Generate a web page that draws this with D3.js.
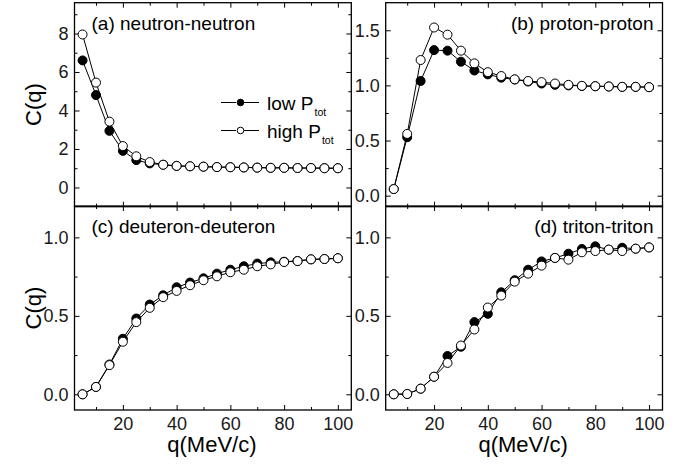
<!DOCTYPE html>
<html>
<head>
<meta charset="utf-8">
<script src="https://cdn.jsdelivr.net/npm/d3@7"></script>
<style>
  body { margin: 0; background: #fff; }
  svg { font-family: "Liberation Sans", Arial, sans-serif; }
  .axis path { display: none; }
  .axis line { stroke: #000; stroke-width: 1; }
  .axis text { font-size: 18px; fill: #1a1a1a; }
</style>
</head>
<body>
<svg id="chart" width="694" height="465"></svg>
<script>
// q values (MeV/c)
const qValues = [5, 10, 15, 20, 25, 30, 35, 40, 45, 50, 55, 60, 65, 70, 75, 80, 85, 90, 95, 100];

// (a) neutron-neutron
const nnLow  = [6.6, 4.8, 2.94, 1.9, 1.42, 1.25, 1.18, 1.12, 1.1, 1.08, 1.06, 1.05, 1.04, 1.03, 1.02, 1.02, 1.01, 1.01, 1.0, 1.0];
const nnHigh = [7.95, 5.45, 3.42, 2.15, 1.62, 1.32, 1.18, 1.12, 1.1, 1.08, 1.06, 1.05, 1.04, 1.03, 1.02, 1.02, 1.01, 1.01, 1.0, 1.0];

// (b) proton-proton
const ppLow  = [0.06, 0.53, 1.04, 1.32, 1.315, 1.215, 1.135, 1.1, 1.07, 1.053, 1.035, 1.017, 1.005, 1.0, 0.995, 0.992, 0.99, 0.987, 0.987, 0.984];
const ppHigh = [0.06, 0.56, 1.23, 1.525, 1.46, 1.315, 1.2, 1.12, 1.085, 1.055, 1.04, 1.03, 1.017, 1.005, 0.996, 0.993, 0.99, 0.987, 0.987, 0.984];

// (c) deuteron-deuteron
const ddLow  = [0.0, 0.047, 0.19, 0.354, 0.483, 0.572, 0.631, 0.682, 0.712, 0.739, 0.769, 0.794, 0.816, 0.833, 0.841, 0.845, 0.85, 0.86, 0.862, 0.867];
const ddHigh = [0.0, 0.047, 0.186, 0.335, 0.46, 0.551, 0.619, 0.659, 0.695, 0.727, 0.752, 0.778, 0.794, 0.816, 0.828, 0.843, 0.849, 0.86, 0.862, 0.867];

// (d) triton-triton
const ttLow  = [0.0, 0.002, 0.036, 0.112, 0.244, 0.303, 0.46, 0.513, 0.65, 0.727, 0.794, 0.847, 0.869, 0.896, 0.926, 0.943, 0.922, 0.934, 0.928, 0.936];
const ttHigh = [0.0, 0.002, 0.036, 0.112, 0.2, 0.311, 0.413, 0.553, 0.629, 0.718, 0.769, 0.82, 0.869, 0.858, 0.905, 0.913, 0.922, 0.913, 0.928, 0.936];

const xMajor = [20, 40, 60, 80, 100];
const xMinor = [10, 30, 50, 70, 90];

const legendLabels = ['low P', 'high P'];

let svg = d3.select('#chart');

let frame = {
  left: [74.5, 385.7],
  width: 276.8,
  top: [2.7, 206],
  height: 204
};

let panels = [
  { title: '(a) neutron-neutron', col: 0, row: 0, low: nnLow, high: nnHigh,
    yDomain: [-1, 9.6], yMajor: [0, 2, 4, 6, 8], yMinor: [1, 3, 5, 7, 9], fmt: d3.format('d'), anchor: 'start' },
  { title: '(b) proton-proton', col: 1, row: 0, low: ppLow, high: ppHigh,
    yDomain: [-0.1, 1.75], yMajor: [0, 0.5, 1, 1.5], yMinor: [0.25, 0.75, 1.25], fmt: d3.format('.1f'), anchor: 'end' },
  { title: '(c) deuteron-deuteron', col: 0, row: 1, low: ddLow, high: ddHigh,
    yDomain: [-0.1, 1.2], yMajor: [0, 0.5, 1], yMinor: [0.25, 0.75], fmt: d3.format('.1f'), anchor: 'start' },
  { title: '(d) triton-triton', col: 1, row: 1, low: ttLow, high: ttHigh,
    yDomain: [-0.1, 1.2], yMajor: [0, 0.5, 1], yMinor: [0.25, 0.75], fmt: d3.format('.1f'), anchor: 'end' }
];

panels.forEach(p => {
  let x0 = frame.left[p.col], y0 = frame.top[p.row];
  let w = frame.width, h = frame.height;

  let x = d3.scaleLinear().domain([2, 105]).range([0, w]);
  let y = d3.scaleLinear().domain(p.yDomain).range([h, 0]);

  let g = svg.append('g').attr('transform', `translate(${x0},${y0})`);

  // ticks, all pointing inward
  g.append('g').attr('class', 'axis').attr('transform', `translate(0,${h})`)
    .call(d3.axisBottom(x).tickValues(xMajor).tickSize(-5).tickPadding(7)
      .tickFormat(p.row === 1 ? d3.format('d') : ''));
  g.append('g').attr('class', 'axis').attr('transform', `translate(0,${h})`)
    .call(d3.axisBottom(x).tickValues(xMinor).tickSize(-3).tickFormat(''));
  g.append('g').attr('class', 'axis')
    .call(d3.axisTop(x).tickValues(xMajor).tickSize(-5).tickFormat(''));
  g.append('g').attr('class', 'axis')
    .call(d3.axisTop(x).tickValues(xMinor).tickSize(-3).tickFormat(''));

  g.append('g').attr('class', 'axis')
    .call(d3.axisLeft(y).tickValues(p.yMajor).tickSize(-5).tickPadding(6).tickFormat(p.fmt));
  g.append('g').attr('class', 'axis')
    .call(d3.axisLeft(y).tickValues(p.yMinor).tickSize(-3).tickFormat(''));
  g.append('g').attr('class', 'axis').attr('transform', `translate(${w},0)`)
    .call(d3.axisRight(y).tickValues(p.yMajor).tickSize(-5).tickFormat(''));
  g.append('g').attr('class', 'axis').attr('transform', `translate(${w},0)`)
    .call(d3.axisRight(y).tickValues(p.yMinor).tickSize(-3).tickFormat(''));

  g.append('rect')
    .attr('width', w)
    .attr('height', h)
    .attr('fill', 'none')
    .attr('stroke', '#000')
    .attr('stroke-width', 1.3);

  let line = d3.line()
    .x((d, i) => x(qValues[i]))
    .y(d => y(d));

  [{ vals: p.low, fill: '#000' }, { vals: p.high, fill: '#fff' }].forEach(s => {
    g.append('path')
      .datum(s.vals)
      .attr('d', line)
      .attr('fill', 'none')
      .attr('stroke', '#000')
      .attr('stroke-width', 1);

    g.selectAll(null)
      .data(s.vals)
      .enter()
      .append('circle')
      .attr('cx', (d, i) => x(qValues[i]))
      .attr('cy', d => y(d))
      .attr('r', 4.5)
      .attr('fill', s.fill)
      .attr('stroke', '#000')
      .attr('stroke-width', 1);
  });

  g.append('text')
    .attr('x', p.anchor === 'start' ? 17 : w - 9)
    .attr('y', 27)
    .attr('text-anchor', p.anchor)
    .style('font-size', '19px')
    .text(p.title);
});

// legend in panel (a)
let legend = svg.append('g').attr('transform', `translate(221,0)`);
legendLabels.forEach((label, i) => {
  let ly = 102.5 + i * 28;
  legend.append('line')
    .attr('x1', 0).attr('x2', 38)
    .attr('y1', ly).attr('y2', ly)
    .attr('stroke', '#000').attr('stroke-width', 1);
  legend.append('rect')
    .attr('x', 15).attr('y', ly - 5)
    .attr('width', 8).attr('height', 10)
    .attr('fill', '#fff');
  legend.append('circle')
    .attr('cx', 19.5).attr('cy', ly)
    .attr('r', 3.3)
    .attr('fill', i === 0 ? '#000' : '#fff')
    .attr('stroke', '#000').attr('stroke-width', 1);
  let t = legend.append('text')
    .attr('x', 46).attr('y', ly + 7)
    .style('font-size', '19px')
    .text(label);
  t.append('tspan')
    .attr('dy', 6)
    .attr('dx', 1)
    .style('font-size', '10.5px')
    .text('tot');
});

// axis titles
[104.5, 308].forEach(cy => {
  svg.append('text')
    .attr('transform', `translate(41,${cy}) rotate(-90)`)
    .attr('text-anchor', 'middle')
    .style('font-size', '22px')
    .text('C(q)');
});

frame.left.forEach(lx => {
  svg.append('text')
    .attr('x', lx + frame.width / 2 - 1)
    .attr('y', 452)
    .attr('text-anchor', 'middle')
    .style('font-size', '22px')
    .text('q(MeV/c)');
});
</script>
</body>
</html>
